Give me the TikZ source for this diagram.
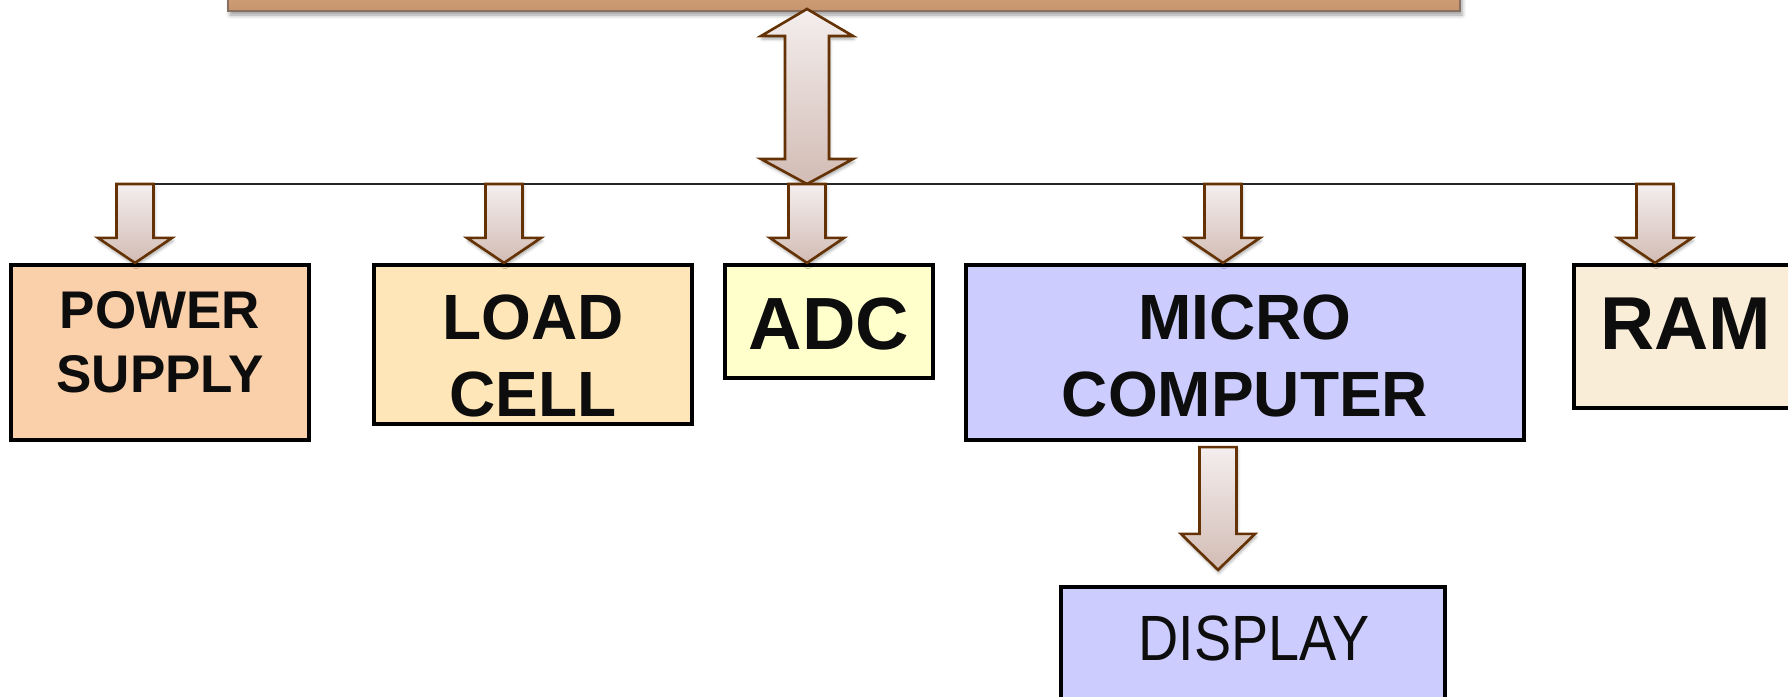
\documentclass[tikz,border=0pt]{standalone}
\usepackage{fontspec}
\setmainfont{Liberation Sans}
\usetikzlibrary{calc,shadows.blur}
\definecolor{psfill}{RGB}{250,208,170}
\definecolor{lcfill}{RGB}{255,230,184}
\definecolor{adcfill}{RGB}{255,255,204}
\definecolor{mcfill}{RGB}{204,204,255}
\definecolor{ramfill}{RGB}{249,237,216}
\definecolor{bartop}{RGB}{212,166,128}
\definecolor{barbot}{RGB}{200,150,110}
\definecolor{baredge}{RGB}{135,112,95}
\definecolor{arrowedge}{RGB}{100,50,4}
\definecolor{arrowtop}{RGB}{244,238,238}
\definecolor{arrowbot}{RGB}{210,188,180}
\tikzset{
  box/.style={draw=black, line width=4.2pt, rectangle, inner sep=0pt},
  lbl/.style={inner sep=0pt, anchor=base, text=black!95},
  fatarrow/.style={draw=arrowedge, line width=2.6pt, line join=miter,
    top color=arrowtop, bottom color=arrowbot,
    blur shadow={shadow xshift=1pt, shadow yshift=-3pt, shadow blur radius=3pt, shadow opacity=35}},
  busline/.style={draw=black!85, line width=2.2pt}
}
% #1 head length, #2 start (top of shaft), #3 tip
\newcommand\fatdown[3]{%
  \path[fatarrow] let \p1=(#2), \p2=(#3) in
    (\x1-18.5pt,\y1) -- (\x1+18.5pt,\y1) -- (\x1+18.5pt,\y2+#1) -- (\x1+37pt,\y2+#1)
    -- (\x1,\y2) -- (\x1-37pt,\y2+#1) -- (\x1-18.5pt,\y2+#1) -- cycle;}
\begin{document}
\begin{tikzpicture}[x=1pt,y=-1pt]
\useasboundingbox (0,0) rectangle (1788,696);
\clip (0,0) rectangle (1788,696);
% top bar
\node[rectangle, draw=baredge, line width=2pt, top color=bartop, bottom color=barbot,
      minimum width=1232pt, minimum height=36pt, inner sep=0pt,
      blur shadow={shadow xshift=2pt, shadow yshift=-4pt, shadow blur radius=4pt, shadow opacity=40}]
      (bar) at (844,-7) {};
% boxes
\node[box, fill=psfill, minimum width=298pt, minimum height=175pt] (ps) at (160,352.5) {};
\node[box, fill=lcfill, minimum width=318pt, minimum height=159pt] (lc) at (533,344.5) {};
\node[box, fill=adcfill, minimum width=208pt, minimum height=113pt] (adc) at (829,321.5) {};
\node[box, fill=mcfill, minimum width=558pt, minimum height=175pt] (mc) at (1245,352.5) {};
\node[box, fill=ramfill, minimum width=226pt, minimum height=143pt] (ram) at (1687,336.5) {};
\node[box, fill=mcfill, minimum width=384pt, minimum height=160pt] (disp) at (1253,667) {};
% labels
\node[lbl, font=\bfseries\fontsize{53}{64}\selectfont] (ps1) at (160,328) {POWER};
\node[lbl, font=\bfseries\fontsize{53}{64}\selectfont] (ps2) at (160,392) {SUPPLY};
\node[lbl, font=\bfseries\fontsize{64}{77}\selectfont] (lc1) at (533,339) {LOAD};
\node[lbl, font=\bfseries\fontsize{64}{77}\selectfont] (lc2) at (533,416) {CELL};
\node[lbl, font=\bfseries\fontsize{74}{89}\selectfont] (adc1) at (829,349) {ADC};
\node[lbl, font=\bfseries\fontsize{64}{77}\selectfont] (mc1) at (1245,339) {MICRO};
\node[lbl, font=\bfseries\fontsize{64}{77}\selectfont] (mc2) at (1245,416) {COMPUTER};
\node[lbl, font=\bfseries\fontsize{75}{90}\selectfont] (ram1) at (1686,349) {RAM};
\node[lbl, font=\fontsize{64}{77}\selectfont] (disp1) at (1254,660) {\scalebox{0.87}[1]{DISPLAY}};
% bus line
\coordinate (busL) at (133,184);
\coordinate (busR) at (1655,184);
\draw[busline] (busL) -- (busR);
% double arrow between bar and bus
\coordinate (dtop) at ([xshift=-37pt,yshift=3pt]bar.south);
\coordinate (dbot) at (dtop |- busL);
\path[fatarrow] let \p1=(dtop), \p2=(dbot) in
  (\x1,\y1) -- (\x1+46pt,\y1-27pt) -- (\x1+22pt,\y1-27pt) -- (\x1+22pt,\y2+25pt)
  -- (\x1+46pt,\y2+25pt) -- (\x1,\y2) -- (\x1-46pt,\y2+25pt) -- (\x1-22pt,\y2+25pt)
  -- (\x1-22pt,\y1-27pt) -- (\x1-46pt,\y1-27pt) -- cycle;
% drop arrows from bus to boxes
\coordinate (aps) at ([xshift=-25pt]ps.north);
\coordinate (alc) at ([xshift=-29pt]lc.north);
\coordinate (aadc) at ([xshift=-22pt]adc.north);
\coordinate (amc) at ([xshift=-22pt]mc.north);
\coordinate (aram) at ([xshift=-32pt]ram.north);
\fatdown{25pt}{aps |- busL}{aps}
\fatdown{25pt}{alc |- busL}{alc}
\fatdown{25pt}{aadc |- busL}{aadc}
\fatdown{25pt}{amc |- busL}{amc}
\fatdown{25pt}{aram |- busL}{aram}
% micro computer to display
\coordinate (mdA) at ([xshift=-27pt,yshift=-5pt]mc.south);
\coordinate (mdB) at ([xshift=-35pt,yshift=15pt]disp.north);
\fatdown{36pt}{mdA}{mdA |- mdB}
\end{tikzpicture}
\end{document}
